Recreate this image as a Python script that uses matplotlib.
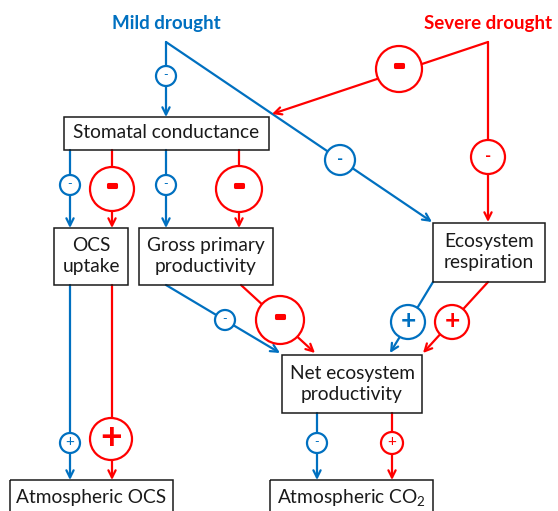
import matplotlib.pyplot as plt
import matplotlib.patheffects as pe
from matplotlib.patches import Rectangle, Circle

plt.rcParams['font.family'] = ['Lato', 'DejaVu Sans']
plt.rcParams['mathtext.fontset'] = 'custom'
plt.rcParams['mathtext.rm'] = 'Lato'
plt.rcParams['mathtext.default'] = 'regular'

blue = '#0070C0'
red = '#FF0000'
ink = '#1a1a1a'

# nodes: label, box (x0, y0, x1, y1) in pixels
node_names = ['stom', 'ocs', 'gpp', 'er', 'nep', 'atm_ocs', 'atm_co2']
node_labels = ['Stomatal conductance', 'OCS\nuptake', 'Gross primary\nproductivity',
               'Ecosystem\nrespiration', 'Net ecosystem\nproductivity',
               'Atmospheric OCS', 'Atmospheric CO$_2$']
node_boxes = [(64, 117, 269, 150), (54, 228, 128, 285), (139, 228, 273, 285),
              (433, 223, 545, 282), (282, 355, 422, 413),
              (10, 480, 173, 520), (270, 480, 433, 520)]
node_text_y = [133, 256, 256, 252, 384, 497, 497]

# drivers
driver_labels = ['Mild drought', 'Severe drought']
driver_colors = [blue, red]
driver_xy = [(166, 24), (488, 24)]

# edges: colour, start, end, sign, circle centre, circle radius
edge_colors = [blue, blue, red, red,
               blue, red, blue, red,
               blue, red,
               blue, red, blue, red,
               blue, red]
edge_start = [(166, 42), (166, 42), (488, 42), (488, 42),
              (70, 150), (112, 150), (166, 150), (239, 150),
              (70, 285), (112, 285),
              (166, 285), (241, 285), (433, 282), (488, 282),
              (317, 413), (392, 413)]
edge_end = [(166, 117), (432, 222), (272, 114), (488, 222),
            (70, 228), (112, 228), (166, 228), (239, 228),
            (70, 480), (112, 480),
            (280, 353), (315, 353), (390, 353), (423, 353),
            (317, 480), (392, 480)]
edge_signs = ['-', '-', '-', '-',
              '-', '-', '-', '-',
              '+', '+',
              '-', '-', '+', '+',
              '-', '+']
circle_xy = [(166, 76), (340, 160), (399, 69), (488, 157),
             (70, 185), (112, 189), (166, 185), (239, 189),
             (70, 443), (111, 439),
             (225, 320), (280, 320), (408, 322), (452, 322),
             (317, 443), (392, 443)]
circle_r = [10, 15, 23, 17,
            10, 22, 10, 23,
            10, 21,
            10, 24, 17, 17,
            10, 11]

fig = plt.figure(figsize=(5.58, 5.11), dpi=100)
ax = fig.add_axes([0, 0, 1, 1])
ax.set_xlim(0, 558)
ax.set_ylim(511, 0)
ax.axis('off')

for (x0, y0, x1, y1), lab, ty in zip(node_boxes, node_labels, node_text_y):
    ax.add_patch(Rectangle((x0, y0), x1 - x0, y1 - y0, fill=False,
                           ec=ink, lw=1.1, zorder=3))
    ax.text((x0 + x1) / 2, ty, lab, ha='center', va='center', fontsize=13.8,
            color=ink, linespacing=1.3, zorder=4)

for lab, c, (x, y) in zip(driver_labels, driver_colors, driver_xy):
    ax.text(x, y, lab, ha='center', va='center', fontsize=13.5,
            fontweight='bold', color=c)

for c, s, e, sg, cxy, r in zip(edge_colors, edge_start, edge_end, edge_signs,
                               circle_xy, circle_r):
    ax.annotate('', xy=e, xytext=s,
                arrowprops=dict(arrowstyle='->', color=c, lw=1.6,
                                shrinkA=0, shrinkB=0, mutation_scale=13),
                zorder=1)
    ax.add_patch(Circle(cxy, r, fc='white', ec=c, lw=1.6, zorder=2))
    if r >= 20:
        if sg == '+':
            ax.text(cxy[0], cxy[1] - 1, sg, ha='center', va='center',
                    fontsize=27, fontweight='bold', color=c, zorder=5)
        else:
            ax.text(cxy[0], cxy[1] - 3, sg, ha='center', va='center',
                    fontsize=20, fontweight='bold', color=c, zorder=5,
                    path_effects=[pe.withStroke(linewidth=2.2, foreground=c)])
    elif r >= 15:
        fs = 19 if sg == '+' else 12
        ax.text(cxy[0], cxy[1] - 1, sg, ha='center', va='center', fontsize=fs,
                fontweight='bold', color=c, zorder=5)
    else:
        fs = 11 if sg == '+' else 9
        ax.text(cxy[0], cxy[1] - 1, sg, ha='center', va='center', fontsize=fs,
                color=c, zorder=5)

fig.savefig('out.png', dpi=100)
